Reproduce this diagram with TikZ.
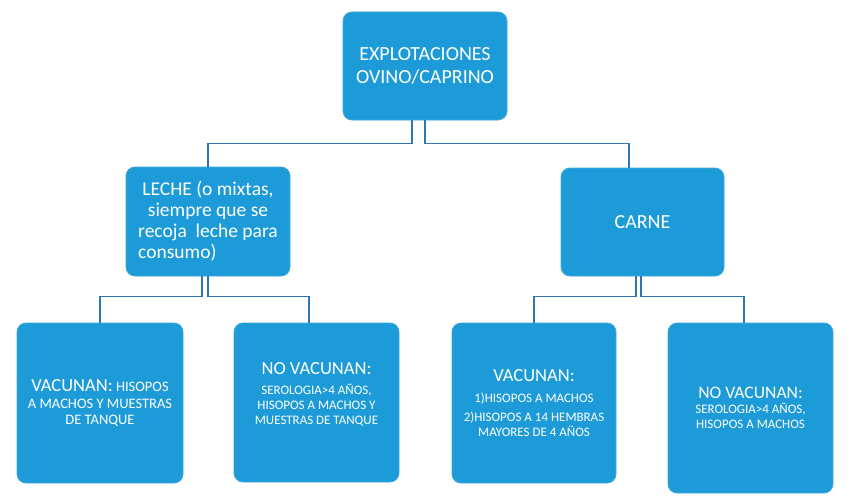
\documentclass[tikz,border=0pt]{standalone}
\usepackage{fontspec}
\setmainfont{Carlito}
\usepackage{tikz}
\usetikzlibrary{positioning}
\usepackage{xcolor}

\definecolor{azulcaja}{RGB}{29,155,216}
\definecolor{azulborde}{RGB}{60,168,222}
\definecolor{azullinea}{RGB}{46,117,182}

\newcommand{\grande}{\fontsize{18.5}{21}\selectfont}
\newcommand{\chico}{\fontsize{13}{15}\selectfont}

\begin{document}
\begin{tikzpicture}[
    x=1pt, y=-1pt,
    caja/.style={rectangle, rounded corners=9pt, fill=azulcaja, draw=azulborde,
                 line width=0.8pt, text=white, align=center, inner sep=2pt},
    linea/.style={draw=azullinea, line width=1.3pt},
]
    \useasboundingbox (0,0) rectangle (850,500);

    % Raiz
    \node[caja, minimum width=164pt, minimum height=108pt,
          font=\fontsize{20}{23}\selectfont] (raiz) at (425,66)
          {EXPLOTACIONES\\OVINO/CAPRINO};

    % Tipos
    \node[caja, minimum width=164pt, minimum height=109pt,
          font=\fontsize{19.5}{20.7}\selectfont] (leche) at (208,221.5)
          {LECHE (o mixtas,\\siempre que se\\recoja\ \ leche para\\
           \makebox[0pt][l]{consumo)}\phantom{recoja\ \ leche para}};
    \node[caja, minimum width=163pt, minimum height=108pt,
          font=\fontsize{20}{23}\selectfont] (carne) at (642.5,222) {CARNE};

    % Hojas
    \node[caja, minimum width=166pt, minimum height=160pt,
          font=\fontsize{14.5}{16.5}\selectfont] (vac1) at (100,403)
          {{\grande VACUNAN:} HISOPOS\\A MACHOS Y MUESTRAS\\DE TANQUE};
    \node[caja, minimum width=165pt, minimum height=159pt, font=\chico] (novac1) at (316.5,402.5)
          {{\grande NO VACUNAN:}\\[5pt]SEROLOGIA>4 AÑOS,\\HISOPOS A MACHOS Y\\MUESTRAS DE TANQUE\\[4pt]\mbox{}};
    \node[caja, minimum width=164pt, minimum height=160pt, font=\chico] (vac2) at (534,403)
          {{\grande VACUNAN:}\\[6pt]1)HISOPOS A MACHOS\\[4pt]2)HISOPOS A 14 HEMBRAS\\MAYORES DE 4 AÑOS};
    \node[caja, minimum width=165pt, minimum height=170pt, font=\chico] (novac2) at (750.5,408)
          {{\fontsize{17.6}{20}\selectfont NO VACUNAN:}\\SEROLOGIA>4 AÑOS,\\HISOPOS A MACHOS};

    % Aristas
    \draw[linea] ([xshift=-13pt]raiz.south) -- ++(0,23) -| (leche.north);
    \draw[linea] (raiz.south) -- ++(0,23) -| ([xshift=-13.5pt]carne.north);

    \draw[linea] ([xshift=-6pt]leche.south) -- ++(0,20) -| (vac1.north);
    \draw[linea] (leche.south) -- ++(0,20) -| ([xshift=-7.5pt]novac1.north);

    \draw[linea] ([xshift=-6.5pt]carne.south) -- ++(0,20) -| (vac2.north);
    \draw[linea] ([xshift=-1.5pt]carne.south) -- ++(0,20) -| ([xshift=-6.5pt]novac2.north);

\end{tikzpicture}
\end{document}
